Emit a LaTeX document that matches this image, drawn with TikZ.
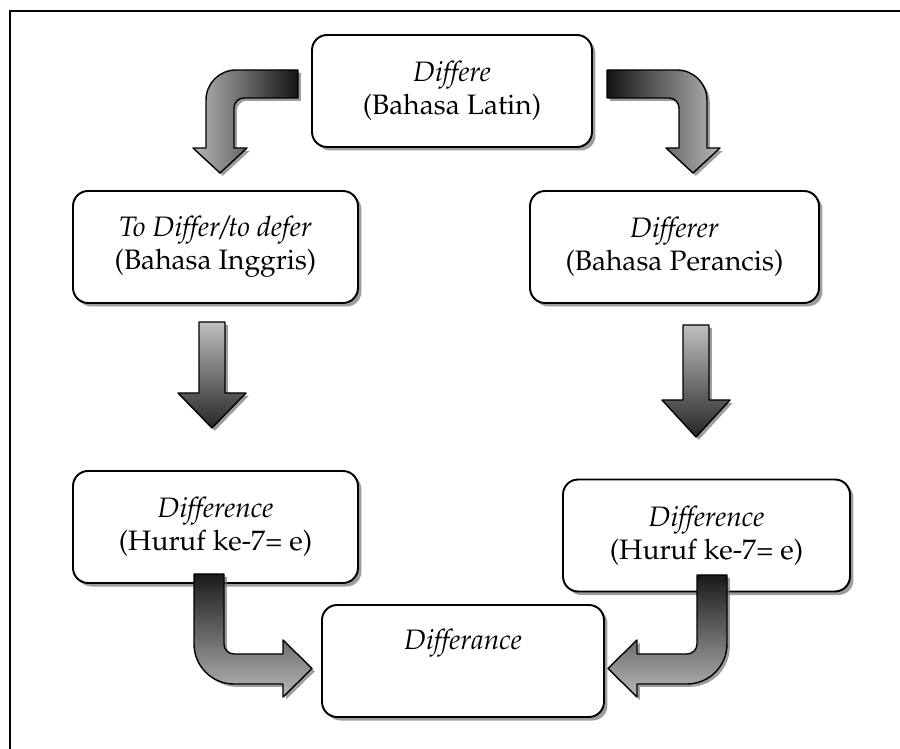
\documentclass[tikz,border=0pt]{standalone}
\usepackage[T1]{fontenc}
\usepackage{mathpazo}
\usetikzlibrary{shadows}
\begin{document}
\begin{tikzpicture}[x=0.02cm,y=-0.02cm,
    box/.style={draw, line width=1.1pt, rounded corners=0.3cm, fill=white, align=center,
      minimum height=2.24cm, inner sep=2pt, font=\fontsize{16}{19}\selectfont,
      drop shadow={shadow xshift=2pt, shadow yshift=-2pt, fill=black!55, opacity=0.7}},
    fat/.style={draw, line width=0.8pt, line join=round,
      drop shadow={shadow xshift=1.6pt, shadow yshift=-1.6pt, fill=black!55, opacity=0.7}}]
        \useasboundingbox (0,0) rectangle (900,749);
        \draw[line width=1.1pt] (10,749) -- (10,11) -- (900,11);

        \node[box, minimum width=5.6cm] (latin) at (452,91) {\textit{Differe}\\(Bahasa Latin)};
        \node[box, minimum width=5.7cm] (inggris) at (215.5,247) {\textit{To Differ/to defer}\\(Bahasa Inggris)};
        \node[box, minimum width=5.78cm] (perancis) at (674.5,247) {\textit{Differer}\\(Bahasa Perancis)};
        \node[box, minimum width=5.7cm] (diffa) at (215.5,527) {\textit{Difference}\\(Huruf ke-7= e)};
        \node[box, minimum width=5.74cm] (diffb) at (706.5,535.5) {\textit{Difference}\\(Huruf ke-7= e)};
        \node[box, minimum width=5.64cm] (differance) at (463,661) {\textit{Differance}\\\strut};

        \draw[fat, left color=black!28, right color=black!92] (298,70) -- (236,70) arc[start angle=90, end angle=180, radius=0.6cm] -- (206,148) -- (193,148) -- (220,173) -- (247,148) -- (234,148) -- (234,108) arc[start angle=180, end angle=90, radius=0.2cm] -- (298,98) -- cycle;
        \draw[fat, left color=black!92, right color=black!28] (607,70) -- (677,70) arc[start angle=90, end angle=0, radius=0.6cm] -- (707,148) -- (720,148) -- (693,173) -- (666,148) -- (679,148) -- (679,108) arc[start angle=0, end angle=90, radius=0.2cm] -- (607,98) -- cycle;
        \draw[fat, top color=black!25, bottom color=black!85] (199,322) -- (225,322) -- (225,393) -- (246,393) -- (212,428) -- (178,393) -- (199,393) -- cycle;
        \draw[fat, top color=black!25, bottom color=black!85] (683,325) -- (709,325) -- (709,400) -- (730,400) -- (696,437) -- (662,400) -- (683,400) -- cycle;
        \draw[fat, top color=black!90, bottom color=black!28] (194,574) -- (224,574) -- (224,644) arc[start angle=180, end angle=270, radius=0.2cm] -- (283,654) -- (283,640) -- (312,668.5) -- (283,697) -- (283,684) -- (234,684) arc[start angle=270, end angle=180, radius=0.8cm] -- cycle;
        \draw[fat, top color=black!90, bottom color=black!28] (727,575) -- (697,575) -- (697,644) arc[start angle=0, end angle=-90, radius=0.2cm] -- (637,654) -- (637,640) -- (608,668.5) -- (637,697) -- (637,684) -- (687,684) arc[start angle=-90, end angle=0, radius=0.8cm] -- cycle;
\end{tikzpicture}
\end{document}
